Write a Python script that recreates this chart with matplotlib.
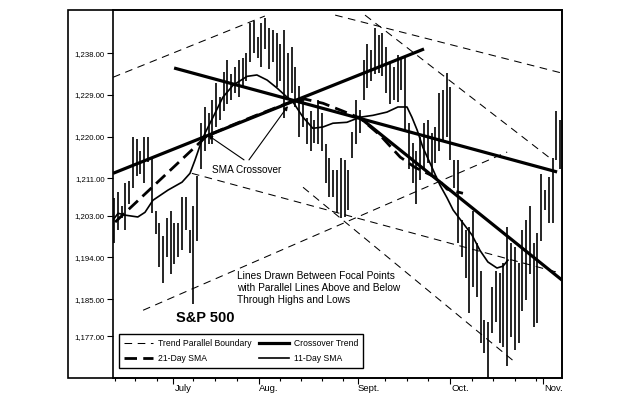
import numpy as np
import matplotlib
matplotlib.use("Agg")
import matplotlib.pyplot as plt
from matplotlib.lines import Line2D
from matplotlib.patches import Rectangle
from matplotlib.transforms import ScaledTranslation

plt.rcParams["font.family"] = ["Liberation Sans", "DejaVu Sans"]
plt.rcParams["lines.scale_dashes"] = False

# ---- daily high / low bars (S&P 500, mid June .. early Nov) -------------------
highs = [1206.7, 1208.0, 1205.0, 1210.0, 1210.5, 1220.0, 1219.5, 1217.0, 1220.0, 1220.0,
         1215.5, 1204.0, 1201.5, 1198.5, 1202.5, 1204.0, 1201.5, 1201.5, 1207.0, 1207.0,
         1200.0, 1205.0, 1211.5, 1223.0, 1226.5, 1225.0, 1228.0, 1231.5, 1228.5, 1234.0,
         1236.5, 1233.5, 1235.0, 1236.5, 1237.0, 1238.0, 1244.5, 1245.0, 1241.5, 1244.5,
         1245.5, 1243.5, 1243.0, 1242.3, 1240.0, 1243.0, 1238.0, 1239.3, 1235.0, 1231.0,
         1228.0, 1224.0, 1225.5, 1223.6, 1228.0, 1225.0, 1218.5, 1215.5, 1212.8, 1212.8,
         1215.5, 1215.0, 1212.8, 1221.0, 1228.0, 1225.7, 1236.5, 1240.0, 1238.6, 1243.5,
         1242.0, 1242.3, 1239.3, 1236.0, 1235.0, 1237.5, 1237.0, 1237.0, 1223.0, 1218.6,
         1217.0, 1220.0, 1223.0, 1223.6, 1220.8, 1222.0, 1229.5, 1230.0, 1233.7, 1230.7,
         1215.0, 1215.0, 1202.0, 1200.0, 1200.5, 1204.0, 1197.0, 1191.0, 1180.5, 1180.0,
         1187.6, 1191.0, 1190.6, 1192.7, 1200.5, 1197.0, 1196.2, 1192.7, 1200.0, 1202.0,
         1205.0, 1197.0, 1199.2, 1212.0, 1208.5, 1211.3, 1215.5, 1225.5, 1223.5]
lows = [1197.1, 1200.0, 1202.5, 1200.0, 1205.5, 1209.0, 1211.5, 1212.0, 1210.0, 1214.5,
        1203.5, 1199.0, 1192.0, 1188.5, 1194.0, 1190.5, 1192.5, 1194.0, 1195.5, 1200.0,
        1195.0, 1184.0, 1197.5, 1213.0, 1217.0, 1218.5, 1218.5, 1222.0, 1223.5, 1225.5,
        1227.0, 1228.0, 1229.5, 1228.5, 1231.0, 1232.0, 1236.0, 1238.0, 1237.0, 1235.0,
        1239.0, 1234.5, 1236.0, 1230.7, 1232.0, 1224.0, 1228.0, 1229.4, 1226.5, 1220.0,
        1222.0, 1218.5, 1217.0, 1218.6, 1218.5, 1217.0, 1210.0, 1207.0, 1207.0, 1203.5,
        1202.5, 1202.7, 1204.2, 1215.5, 1218.5, 1220.8, 1228.0, 1230.5, 1232.0, 1233.5,
        1233.7, 1233.0, 1229.5, 1227.0, 1228.0, 1227.5, 1230.0, 1221.5, 1213.0, 1210.0,
        1205.5, 1210.6, 1212.8, 1214.3, 1212.0, 1214.3, 1217.0, 1219.3, 1220.0, 1215.0,
        1209.0, 1197.0, 1194.0, 1189.5, 1182.0, 1187.6, 1185.5, 1175.5, 1173.3, 1167.5,
        1177.6, 1180.0, 1175.5, 1174.6, 1170.5, 1176.8, 1174.0, 1175.5, 1182.5, 1184.8,
        1190.5, 1179.0, 1179.8, 1197.5, 1204.2, 1201.4, 1201.5, 1215.0, 1213.0]

# ---- moving averages (bar index / price) -------------------------------------
sma11_x = [-0.3, 1.1, 2.9, 6.3, 8.2, 10.3, 14.3, 18.0, 20.1, 21.4, 22.8, 24.1, 26.2, 28.8,
           31.5, 35.2, 37.8, 40.5, 43.1, 45.8, 47.4, 50.0, 52.6, 55.3, 57.9, 61.6, 65.1,
           68.5, 72.2, 75.1, 77.5, 78.8, 80.2, 81.7, 84.1, 86.2, 88.1, 89.7, 92.3, 94.7,
           96.8, 98.9, 101.3, 102.9, 104.2]
sma11_y = [1202.0, 1203.5, 1203.1, 1202.7, 1203.7, 1206.3, 1208.5, 1210.2, 1212.1, 1214.9,
           1218.2, 1220.8, 1224.2, 1228.5, 1231.1, 1233.0, 1233.3, 1232.2, 1230.5, 1228.5,
           1227.4, 1224.2, 1221.8, 1222.1, 1222.9, 1223.1, 1224.2, 1224.6, 1225.3, 1226.4,
           1226.4, 1224.2, 1221.4, 1217.7, 1213.4, 1209.6, 1206.8, 1204.2, 1201.4, 1198.8,
           1195.5, 1193.0, 1191.7, 1192.1, 1193.4]
sma21_x = [0.3, 24.6, 30.7, 37.3, 43.9, 47.4, 50.5, 55.3, 60.6, 65.1, 70.4, 75.7, 79.6,
           85.4, 88.1, 92.3]
sma21_y = [1201.6, 1220.2, 1222.3, 1224.5, 1226.6, 1227.7, 1228.1, 1227.2, 1225.5, 1224.0,
           1220.3, 1215.6, 1213.4, 1211.1, 1208.7, 1207.8]

# ---- crossover trend lines (start, end) ---------------------------------------
trend_x = [(-0.26, 82.0), (15.9, 117.2), (64.6, 118.5)]
trend_y = [(1212.1, 1238.9), (1234.8, 1212.4), (1224.4, 1189.1)]

# ---- parallel boundary lines (start, end) -------------------------------------
bound_x = [(-0.26, 39.9), (58.5, 118.5), (20.6, 117.2), (50.0, 106.1), (7.7, 104.0), (66.4, 115.3)]
bound_y = [(1232.8, 1246.0), (1246.2, 1233.7), (1212.1, 1190.8), (1209.1, 1171.4),
           (1182.6, 1216.7), (1246.2, 1215.4)]

ytick_vals = [1177, 1185, 1194, 1203, 1211, 1220, 1229, 1238]
month_pos = [15.6, 38.4, 64.6, 88.9, 113.5]
month_lbl = ["July", "Aug.", "Sept.", "Oct.", "Nov."]
week_pos = [0.3, 5.6, 11.4, 20.9, 26.7, 32.5, 43.9, 49.5, 55.0, 60.6, 71.7, 77.5, 83.1,
            94.7, 100.3, 106.1, 111.6]

fig = plt.figure(figsize=(6.25, 3.96), dpi=100)
ax = fig.add_axes([113 / 625, 18 / 396, 449 / 625, 368 / 396])

x = np.arange(len(highs))
ax.vlines(x, lows, highs, color="black", lw=1.2)

thin_dash = (0, (5.5, 4))
for bx, by in zip(bound_x, bound_y):
    ax.plot(bx, by, color="black", lw=0.75, linestyle=thin_dash)
for tx, ty in zip(trend_x, trend_y):
    ax.plot(tx, ty, color="black", lw=2.3, solid_capstyle="butt")
ax.plot(sma21_x, sma21_y, color="black", lw=2.0, linestyle=(0, (9, 4.5)))
ax.plot(sma11_x, sma11_y, color="black", lw=1.2)

# annotations
ax.text(35.2, 1212.8, "SMA Crossover", fontsize=7.2, ha="center", va="center")
arrow = dict(arrowstyle="-|>", lw=0.8, color="black", mutation_scale=6, shrinkA=0, shrinkB=0)
ax.annotate("", xy=(24.9, 1220.3), xytext=(34.4, 1215.0), arrowprops=arrow)
ax.annotate("", xy=(46.0, 1226.6), xytext=(35.7, 1215.0), arrowprops=arrow)
ax.text(32.5, 1191.0, "Lines Drawn Between Focal Points\nwith Parallel Lines Above and Below\n"
        "Through Highs and Lows", fontsize=7.3, ha="left", va="top", linespacing=1.25)
ax.text(24.1, 1180.9, "S&P 500", fontsize=10.5, fontweight="bold", ha="center", va="center")

handles = [Line2D([], [], color="black", lw=0.75, linestyle=thin_dash),
           Line2D([], [], color="black", lw=2.0, linestyle=(0, (9, 4.5))),
           Line2D([], [], color="black", lw=2.3),
           Line2D([], [], color="black", lw=1.2)]
labels = ["Trend Parallel Boundary", "21-Day SMA", "Crossover Trend", "11-Day SMA"]
leg = ax.legend(handles, labels, ncol=2, loc="lower left", fontsize=6.2,
                bbox_to_anchor=(0.013, 0.027), handlelength=3.4, handletextpad=0.6,
                columnspacing=0.9, borderpad=0.55, labelspacing=0.75,
                fancybox=False, framealpha=1, borderaxespad=0)
leg.get_frame().set_edgecolor("black")
leg.get_frame().set_linewidth(1.0)

ax.set_xlim(-0.26, 118.5)
ax.set_ylim(1168.0, 1247.3)
ax.set_yticks(ytick_vals)
ax.set_yticklabels([f"{v:,.2f}" for v in ytick_vals], fontsize=5.6)
ax.tick_params(axis="y", direction="out", length=4, width=0.8, pad=2)
ax.set_xticks(month_pos)
ax.set_xticklabels(month_lbl, fontsize=6.8)
ax.set_xticks(week_pos, minor=True)
ax.tick_params(axis="x", which="major", direction="out", length=4, width=0.8, pad=0.5)
ax.tick_params(axis="x", which="minor", direction="out", length=2.5, width=0.8)
for lab in ax.get_xticklabels():
    lab.set_transform(lab.get_transform() + ScaledTranslation(10 / 100, 0, fig.dpi_scale_trans))
for s in ax.spines.values():
    s.set_linewidth(1.2)

# outer frame around the labels area
fig.patches.append(Rectangle((68 / 625, 18 / 396), 494 / 625, 368 / 396, fill=False,
                             lw=1.2, edgecolor="black", transform=fig.transFigure))

fig.savefig("out.png", dpi=100)
